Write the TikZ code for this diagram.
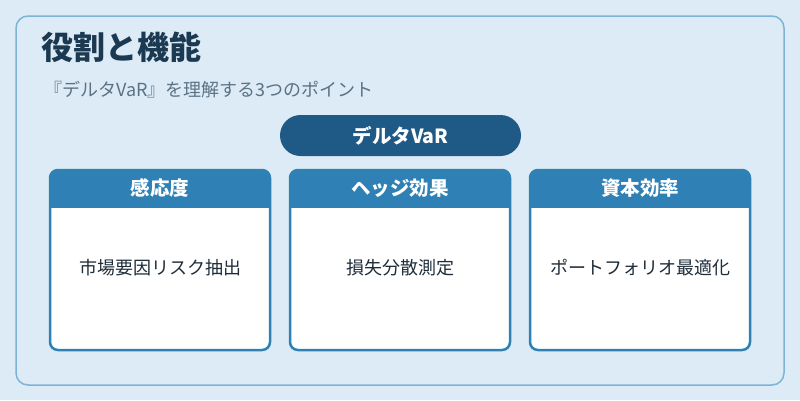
\documentclass[tikz,border=0pt]{standalone}
\usepackage{fontspec}
\setmainfont{Noto Sans CJK JP}
\definecolor{bgc}{HTML}{DCEBF6}
\definecolor{framec}{HTML}{7FB3D5}
\definecolor{pillc}{HTML}{1F5A87}
\definecolor{hdrc}{HTML}{2E80B5}
\definecolor{titlec}{HTML}{1B3A52}
\definecolor{subc}{HTML}{5B7285}
\definecolor{bodyc}{HTML}{1F2D3A}
\tikzset{
  frame/.style={draw=framec, line width=1.5pt, fill=bgc, rounded corners=12pt, inner sep=0pt},
  pill/.style={fill=pillc, rounded corners=20.5pt, inner sep=0pt, minimum width=241pt, minimum height=41pt},
  card/.style={draw=hdrc, line width=2.5pt, rounded corners=8pt, inner sep=0pt, outer sep=0pt, minimum width=220pt, minimum height=180pt},
  hdrtext/.style={text=white, font=\fontsize{19.5}{22}\selectfont\bfseries, inner sep=0pt},
  bodytext/.style={text=bodyc, font=\fontsize{18}{21}\selectfont, inner sep=0pt},
}
\begin{document}
\begin{tikzpicture}[x=1pt, y=-1pt]
\fill[bgc] (0,0) rectangle (800,400);
\useasboundingbox (0,0) rectangle (800,400);
\node[frame, minimum width=768pt, minimum height=369pt] (fr) at (400,200.5) {};
\node[anchor=base west, inner sep=0pt, text=titlec, font=\fontsize{32}{36}\selectfont\bfseries] (title) at (41,59) {役割と機能};
\node[anchor=base west, inner sep=0pt, text=subc, font=\fontsize{18}{20}\selectfont] (sub) at (44,96) {『デルタVaR』を理解する3つのポイント};
\node[pill] (pill) at (400.5,135.5) {};
\node[hdrtext] (pt) at (pill.center) {デルタVaR};
\foreach \i/\cx/\h/\b in {1/160/感応度/市場要因リスク抽出, 2/400/ヘッジ効果/損失分散測定, 3/640/資本効率/ポートフォリオ最適化}{
  \fill[white, rounded corners=8pt] (\cx-110,170) rectangle (\cx+110,350);
  \begin{scope}
    \clip (\cx-115,165) rectangle (\cx+115,207);
    \fill[hdrc, rounded corners=8pt] (\cx-110,170) rectangle (\cx+110,350);
  \end{scope}
  \node[card] (b\i) at (\cx,260) {};
  \node[hdrtext] (h\i) at ([yshift=-18.5pt]b\i.north) {\h};
  \node[bodytext] (t\i) at (\cx,268) {\b};
}
\end{tikzpicture}
\end{document}
